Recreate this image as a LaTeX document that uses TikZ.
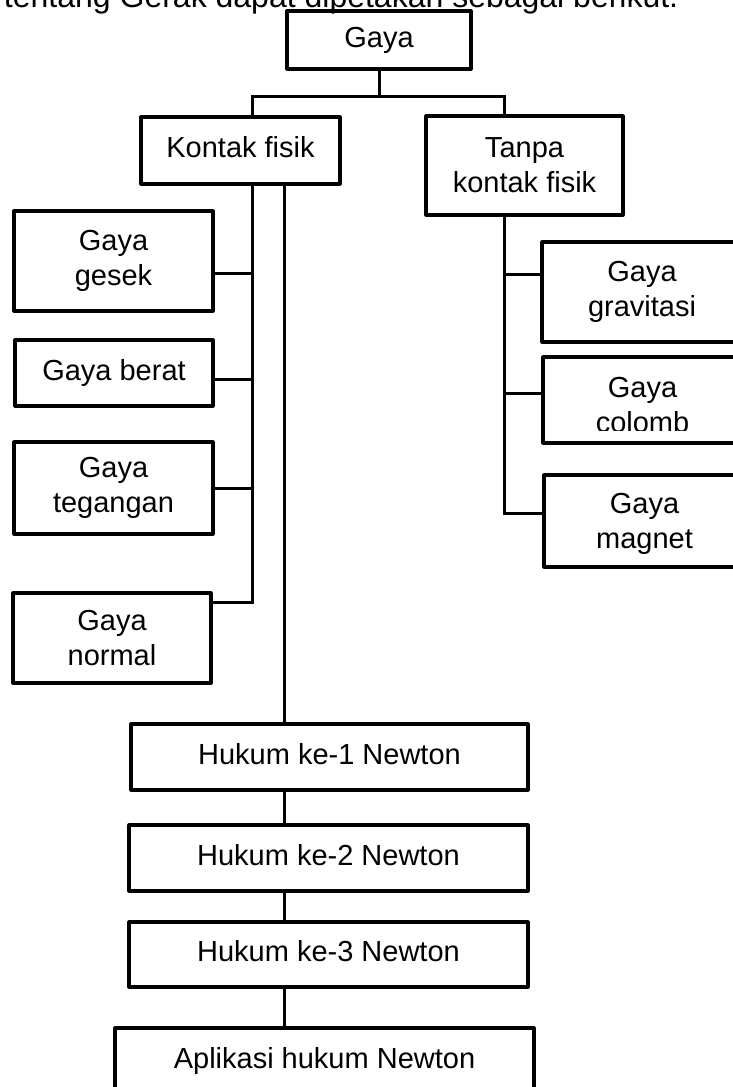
\documentclass[tikz,border=0pt]{standalone}
\usepackage{fontspec}
\setmainfont{Liberation Sans}
\begin{document}
\begin{tikzpicture}[x=1pt,y=-1pt,
  every node/.style={inner sep=0pt, outer sep=0pt},
  card/.style={draw, line width=3.2pt, line join=round, align=center,
               font=\fontsize{29}{35}\selectfont},
  label/.style={align=center, font=\fontsize{29}{35}\selectfont},
  oneline/.style={text height=21pt, text depth=7pt},
  link/.style={line width=3pt}]
\useasboundingbox (0,0) rectangle (733,1087);
\clip (0,0) rectangle (733,1087);

% lead-in sentence above the chart
\node[anchor=base west, font=\fontsize{32}{38}\selectfont] (intro) at (4,7)
  {tentang Gerak dapat dipetakan sebagai berikut.};

% root and first level
\node[card, oneline, minimum width=184pt, minimum height=58pt] (gaya) at (379,40) {Gaya};
\node[card, oneline, minimum width=199pt, minimum height=67pt] (kontak) at (240.5,150.5) {Kontak fisik};
\node[card, minimum width=197pt, minimum height=99pt] (tanpa) at (524.5,165.5) {Tanpa\\kontak fisik};

% contact forces
\node[card, minimum width=199pt, minimum height=100pt] (gesek) at (113.5,261) {Gaya\\gesek};
\node[card, oneline, minimum width=198pt, minimum height=66pt] (berat) at (114,373) {Gaya berat};
\node[card, minimum width=199pt, minimum height=92pt] (tegangan) at (113.5,488) {Gaya\\tegangan};
\node[card, minimum width=198pt, minimum height=90pt] (normal) at (112,638) {Gaya\\normal};

% non-contact forces
\node[card, minimum width=200pt, minimum height=100pt] (gravitasi) at (642,292) {Gaya\\gravitasi};
\node[card, minimum width=199pt, minimum height=86pt] (colomb) at (642.5,400) {};
\begin{scope}
  \clip (543,357) rectangle (742,430);
  \node[label] (colombtext) at (642.5,405) {Gaya\\colomb};
\end{scope}
\node[card, minimum width=201pt, minimum height=92pt] (magnet) at (644.5,521) {};
\begin{scope}
  \clip (544,475) rectangle (745,553);
  \node[label] (magnettext) at (644.5,523.5) {Gaya\\magnet};
\end{scope}

% Newton's laws
\node[card, oneline, minimum width=397pt, minimum height=66pt] (hukum1) at (329.5,757) {Hukum ke-1 Newton};
\node[card, oneline, minimum width=399pt, minimum height=66pt] (hukum2) at (328.5,858) {Hukum ke-2 Newton};
\node[card, oneline, minimum width=399pt, minimum height=65pt] (hukum3) at (328.5,954.5) {Hukum ke-3 Newton};
\node[card, oneline, minimum width=419pt, minimum height=67pt] (aplikasi) at (324.5,1061.5) {Aplikasi hukum Newton};

% junction points
\coordinate (tL) at (252,96);
\coordinate (tR) at (504.5,96);
\coordinate (hk) at (284.5,0);
\coordinate (jGesek) at (252,273);
\coordinate (jBerat) at (252,379);
\coordinate (jTegangan) at (252,488);
\coordinate (jNormal) at (252,602);
\coordinate (jGrav) at (504.5,274);
\coordinate (jColomb) at (504.5,393);
\coordinate (jMagnet) at (504.5,513);

% connectors
\draw[link] (gaya.south) -- (gaya.south |- tL);
\draw[link] (kontak.north -| tL) -- (tL) -- (tR) -- (tanpa.north -| tR);

\draw[link] (kontak.south -| jNormal) -- (jNormal) -- (jNormal -| normal.east);
\draw[link] (jGesek) -- (jGesek -| gesek.east);
\draw[link] (jBerat) -- (jBerat -| berat.east);
\draw[link] (jTegangan) -- (jTegangan -| tegangan.east);

\draw[link] (tanpa.south -| jMagnet) -- (jMagnet) -- (jMagnet -| magnet.west);
\draw[link] (jGrav) -- (jGrav -| gravitasi.west);
\draw[link] (jColomb) -- (jColomb -| colomb.west);

\draw[link] (kontak.south -| hk) -- (hukum1.north -| hk);
\draw[link] (hukum1.south -| hk) -- (hukum2.north -| hk);
\draw[link] (hukum2.south -| hk) -- (hukum3.north -| hk);
\draw[link] (hukum3.south -| hk) -- (aplikasi.north -| hk);
\end{tikzpicture}
\end{document}
